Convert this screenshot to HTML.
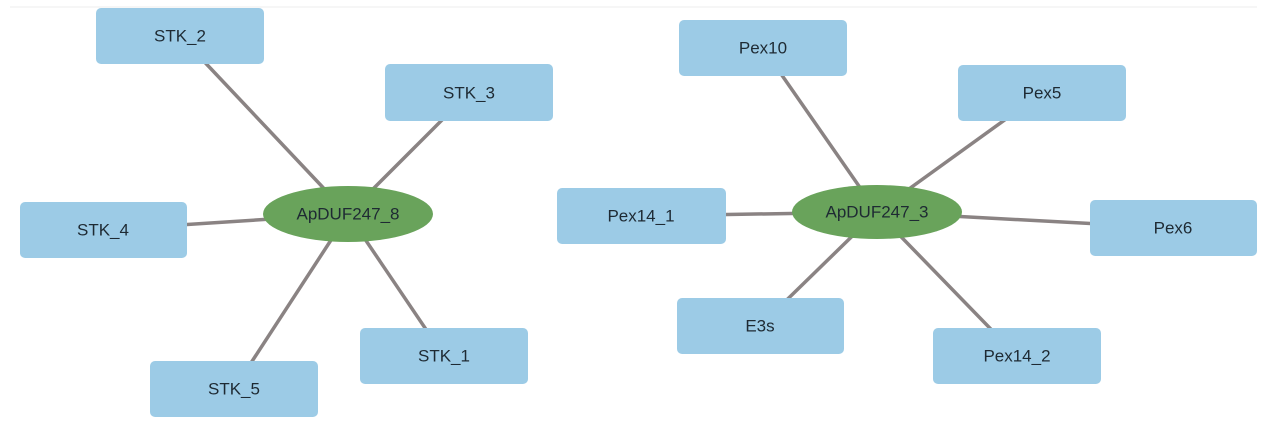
<!DOCTYPE html>
<html><head><meta charset="utf-8"><style>
html,body{margin:0;padding:0;background:#fff;}
svg{display:block;}
text{font-family:"Liberation Sans",sans-serif;font-size:17px;fill:#1e2a33;text-anchor:middle;dominant-baseline:central;}
.b{fill:#9ccbe6;}
.e{fill:#69a35b;}
line.c{stroke:#8a8383;stroke-width:3.5;}
</style></head><body>
<svg width="1267" height="434" viewBox="0 0 1267 434">
<line x1="10" y1="7" x2="1257" y2="7" stroke="#eeeeee" stroke-width="1"/>
<g>
<line class="c" x1="348" y1="214" x2="180" y2="36"/>
<line class="c" x1="348" y1="214" x2="469" y2="93"/>
<line class="c" x1="348" y1="214" x2="103" y2="230"/>
<line class="c" x1="348" y1="214" x2="444" y2="356"/>
<line class="c" x1="348" y1="214" x2="234" y2="389"/>
<line class="c" x1="877" y1="212" x2="763" y2="48"/>
<line class="c" x1="877" y1="212" x2="1042" y2="93"/>
<line class="c" x1="877" y1="212" x2="641" y2="216"/>
<line class="c" x1="877" y1="212" x2="1173" y2="228"/>
<line class="c" x1="877" y1="212" x2="760" y2="326"/>
<line class="c" x1="877" y1="212" x2="1017" y2="356"/>
</g>
<rect class="b" x="96" y="8" width="168" height="56" rx="5"/><text x="180" y="36">STK_2</text>
<rect class="b" x="385" y="64" width="168" height="57" rx="5"/><text x="469" y="93">STK_3</text>
<rect class="b" x="20" y="202" width="167" height="56" rx="5"/><text x="103" y="230">STK_4</text>
<rect class="b" x="360" y="328" width="168" height="56" rx="5"/><text x="444" y="356">STK_1</text>
<rect class="b" x="150" y="361" width="168" height="56" rx="5"/><text x="234" y="389">STK_5</text>
<ellipse class="e" cx="348" cy="214" rx="85" ry="28"/><text x="348" y="214">ApDUF247_8</text>
<rect class="b" x="679" y="20" width="168" height="56" rx="5"/><text x="763" y="48">Pex10</text>
<rect class="b" x="958" y="65" width="168" height="56" rx="5"/><text x="1042" y="93">Pex5</text>
<rect class="b" x="557" y="188" width="169" height="56" rx="5"/><text x="641" y="216">Pex14_1</text>
<rect class="b" x="1090" y="200" width="167" height="56" rx="5"/><text x="1173" y="228">Pex6</text>
<rect class="b" x="677" y="298" width="167" height="56" rx="5"/><text x="760" y="326">E3s</text>
<rect class="b" x="933" y="328" width="168" height="56" rx="5"/><text x="1017" y="356">Pex14_2</text>
<ellipse class="e" cx="877" cy="212" rx="85" ry="27"/><text x="877" y="212">ApDUF247_3</text>
</svg>
</body></html>
